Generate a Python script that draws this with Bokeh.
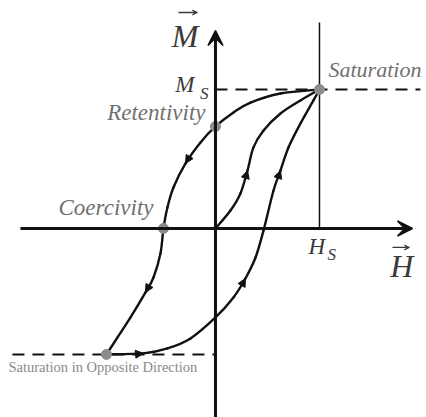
import numpy as np
from bokeh.plotting import figure
from bokeh.models import Range1d, Arrow, NormalHead, VeeHead, ColumnDataSource
from bokeh.core.properties import value
from bokeh.embed import file_html
from bokeh.resources import INLINE

# ---- data: H in units of H_S, M in units of M_S ----
H_S, M_S = 1.0, 1.0
M_RET = 0.734          # retentivity
H_COER = -0.50         # coercivity
H_NSAT, M_NSAT = -1.048, -0.906   # saturation in opposite direction

# descending branch: saturation -> retentivity -> coercivity -> opposite saturation
H_down = [1.0, 0.625, 0.337, 0.173, 0.0, -0.144, -0.288, -0.404, -0.462, -0.50,
          -0.529, -0.596, -0.673, -0.817, -0.942, -1.048]
M_down = [1.0, 0.971, 0.906, 0.835, 0.734, 0.619, 0.468, 0.295, 0.151, 0.0,
          -0.180, -0.353, -0.460, -0.640, -0.784, -0.906]

# ascending branch: opposite saturation -> saturation
H_up = [-1.048, -0.692, -0.462, -0.240, 0.0, 0.173, 0.288, 0.385, 0.462, 0.558,
        0.625, 0.702, 0.817, 0.942, 1.0]
M_up = [-0.906, -0.899, -0.863, -0.791, -0.640, -0.496, -0.360, -0.209, -0.014, 0.273,
        0.417, 0.583, 0.755, 0.921, 1.0]

# initial magnetisation curve
H_init = [0.0, 0.144, 0.240, 0.308, 0.365, 0.462, 0.625, 0.817, 1.0]
M_init = [0.0, 0.129, 0.252, 0.417, 0.583, 0.705, 0.827, 0.921, 1.0]

# where the direction arrows sit on each curve (point index)
arrows_down = [6, 12]
arrows_up = [1, 6, 10]
arrows_init = [3]

point_labels = ["Saturation", "Retentivity", "Coercivity"]
bottom_label = "Saturation in Opposite Direction"

# ---- figure ----
W, HGT = 426, 417
x0, x1 = -2.067, 2.029
y0, y1 = -1.360, 1.640
sx = W / (x1 - x0)      # pixels per H unit
sy = HGT / (y1 - y0)    # pixels per M unit

p = figure(width=W, height=HGT, x_range=Range1d(x0, x1), y_range=Range1d(y0, y1),
           output_backend="svg", toolbar_location=None, min_border=0)
p.axis.visible = False
p.grid.visible = False
p.outline_line_color = None
p.background_fill_color = "white"

INK = "#111111"

# axis extents
H_axis_lo, H_axis_hi = -1.875, 1.894
M_axis_lo, M_axis_hi = -1.36, 1.424

# guides: dashed saturation levels and H_S marker line
p.segment(x0=[0.0, -1.952], y0=[M_S, M_NSAT], x1=[1.97, 0.0], y1=[M_S, M_NSAT],
          line_color=INK, line_width=2, line_dash="12 8")
p.segment(x0=[H_S], y0=[0.0], x1=[H_S], y1=[1.482], line_color=INK, line_width=1.5)

# axes
axis_head = dict(size=15, fill_color=INK, line_color=INK, line_width=1.5)
p.add_layout(Arrow(end=VeeHead(**axis_head),
                   x_start=H_axis_lo, y_start=0, x_end=H_axis_hi, y_end=0,
                   line_width=3, line_color=INK))
p.add_layout(Arrow(end=VeeHead(**axis_head),
                   x_start=0, y_start=M_axis_lo, x_end=0, y_end=M_axis_hi,
                   line_width=3, line_color=INK))


def smooth(xs, ys):
    """Catmull-Rom segments as cubic Bezier pieces through the given points."""
    xs = np.asarray(xs, float)
    ys = np.asarray(ys, float)
    px = np.concatenate([[xs[0]], xs, [xs[-1]]])
    py = np.concatenate([[ys[0]], ys, [ys[-1]]])
    n = len(xs) - 1
    d = dict(x0=[], y0=[], x1=[], y1=[], cx0=[], cy0=[], cx1=[], cy1=[])
    for i in range(n):
        a, b, c, e = i, i + 1, i + 2, i + 3
        d["x0"].append(px[b]); d["y0"].append(py[b])
        d["x1"].append(px[c]); d["y1"].append(py[c])
        d["cx0"].append(px[b] + (px[c] - px[a]) / 6); d["cy0"].append(py[b] + (py[c] - py[a]) / 6)
        d["cx1"].append(px[c] - (px[e] - px[b]) / 6); d["cy1"].append(py[c] - (py[e] - py[b]) / 6)
    return ColumnDataSource(d)


for hx, my in [(H_down, M_down), (H_up, M_up), (H_init, M_init)]:
    p.bezier(x0="x0", y0="y0", x1="x1", y1="y1", cx0="cx0", cy0="cy0",
             cx1="cx1", cy1="cy1", source=smooth(hx, my),
             line_color=INK, line_width=2.4, line_cap="round")


def direction_marks(hx, my, idx):
    for i in idx:
        dx = hx[min(i + 1, len(hx) - 1)] - hx[max(i - 1, 0)]
        dy = my[min(i + 1, len(my) - 1)] - my[max(i - 1, 0)]
        p.add_layout(Arrow(end=NormalHead(size=8, fill_color=INK, line_color=INK, line_width=1),
                           x_start=hx[i] - 0.1 * dx, y_start=my[i] - 0.1 * dy,
                           x_end=hx[i], y_end=my[i], line_alpha=0))


direction_marks(H_down, M_down, arrows_down)
direction_marks(H_up, M_up, arrows_up)
direction_marks(H_init, M_init, arrows_init)

# key points
p.scatter(x=[H_S, 0.0, H_COER, H_NSAT], y=[M_S, M_RET, 0.0, M_NSAT], size=10,
          fill_color="#8c8c8c", line_color="#8c8c8c")

SERIF = value("Liberation Serif")
LABEL_GREY = "#707070"
SYM = "#3a3a3a"


def label(x, y, txt, size, dx, base, align="left", color=SYM, italic=True):
    """Place txt with its baseline `base` px below (x, y) and shifted dx px."""
    p.text(x=[x], y=[y], text=[txt], text_font=SERIF,
           text_font_style="italic" if italic else "normal",
           text_font_size=f"{size}px", text_color=color, text_align=align,
           text_baseline="alphabetic", x_offset=dx, y_offset=base - 0.37 * size)


# point labels
label(H_S, M_S, point_labels[0], 22, 9, -12, "left", LABEL_GREY)
label(0.0, M_RET, point_labels[1], 23, -10, -5, "right", LABEL_GREY)
label(H_COER, 0.0, point_labels[2], 23, -10, -12, "right", LABEL_GREY)
label(-1.952, M_NSAT, bottom_label, 14.5, -4, 18, "left", "#8a8a8a", italic=False)

# M_S and H_S
label(0.0, M_S, "M", 23, -21, 4, "right")
label(0.0, M_S, "S", 17, -7, 10, "right")
label(H_S, 0.0, "H", 23, -11, 27, "left")
label(H_S, 0.0, "S", 17, 8, 32, "left")

# axis names with vector arrows
label(0.0, M_axis_hi, "M", 32, -17, 17, "right")
label(H_axis_hi, 0.0, "H", 32, 1, 49, "right")

vec_head = dict(size=5, fill_color=SYM, line_color=SYM, line_width=1)
p.add_layout(Arrow(end=VeeHead(**vec_head),
                   x_start=-37 / sx, y_start=M_axis_hi + 18 / sy,
                   x_end=-18 / sx, y_end=M_axis_hi + 18 / sy,
                   line_width=1.3, line_color=SYM))
p.add_layout(Arrow(end=VeeHead(**vec_head),
                   x_start=H_axis_hi - 20 / sx, y_start=-19 / sy,
                   x_end=H_axis_hi - 3 / sx, y_end=-19 / sy,
                   line_width=1.3, line_color=SYM))

open("out.html", "w").write(file_html(p, INLINE))
